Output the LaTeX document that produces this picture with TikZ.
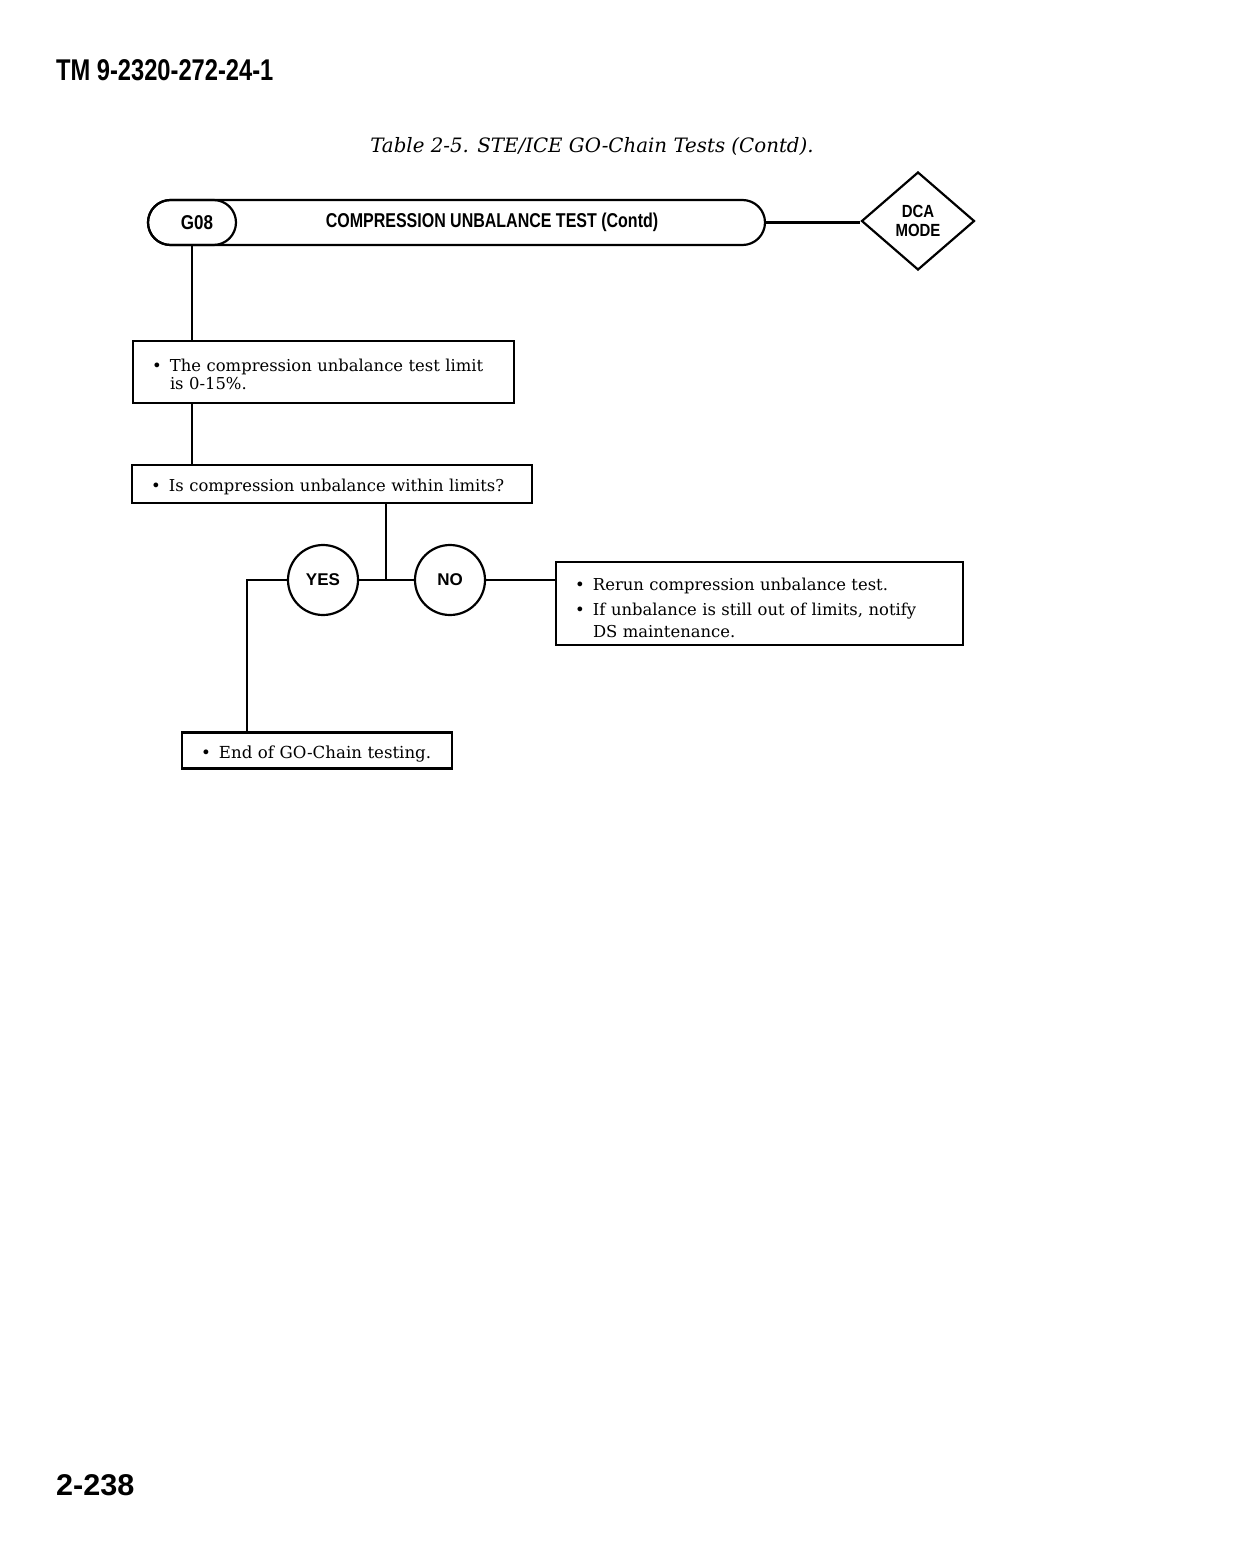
\documentclass[tikz,border=0pt]{standalone}
\usepackage{fontspec}
\setmainfont{DejaVu Serif}
\setsansfont{Liberation Sans}
\usepackage{graphicx}
\usetikzlibrary{shapes.geometric,positioning}
\newcommand{\bul}[1]{\par\noindent\makebox[9pt][l]{\textbullet}%
  \parbox[t]{\dimexpr\linewidth-9pt}{\raggedright #1}\par}
\newcommand{\narrow}[2]{\scalebox{#1}[1]{#2}}

\begin{document}
\begin{tikzpicture}[
  x=0.5pt,y=-0.5pt,
  line width=1.1pt,
  stepbox/.style={draw,line width=1.2pt,inner xsep=9.5pt,inner ysep=3pt,
    font=\fontsize{8.2}{9}\selectfont},
  pill/.style={draw,rounded corners=11.25pt,minimum height=22.5pt,inner sep=0pt},
  head/.style={font=\sffamily\bfseries\fontsize{10}{11}\selectfont,inner sep=0pt,align=center},
  answer/.style={draw,circle,minimum size=35pt,inner sep=0pt,font=\sffamily\bfseries\fontsize{8.5}{9}\selectfont}
]
\useasboundingbox (0,0) rectangle (1232,1568);

\node[head,font=\sffamily\bfseries\fontsize{15}{16}\selectfont,anchor=west] (tm) at (55,70) {\narrow{0.79}{TM 9-2320-272-24-1}};
\node[font=\itshape\fontsize{9.9}{11}\selectfont,inner sep=0pt] (cap) at (592,147) {Table 2-5. STE/ICE GO-Chain Tests (Contd).};

\node[pill,minimum width=308.5pt] (bar) at (456.5,222.5) {};
\node[pill,minimum width=44pt,anchor=west,head] (g08) at (bar.west) {\hspace{5pt}\narrow{0.85}{G08}};
\node[head] (ttl) at (492,222) {\narrow{0.8}{COMPRESSION UNBALANCE TEST (Contd)}};
\node[draw,diamond,minimum width=56.5pt,minimum height=49pt,inner sep=0pt,head,
      font=\sffamily\bfseries\fontsize{8.8}{9.8}\selectfont] (mode) at (918,221) {\narrow{0.85}{DCA}\\\narrow{0.85}{MODE}};
\draw (bar.east) -- (bar.east -| mode.west);

\node[stepbox,text width=171.5pt,minimum height=31pt] (lim) at (323.5,372) {%
  \bul{The compression unbalance test limit\\is 0-15\%.}};
\node[stepbox,text width=181pt,minimum height=19pt] (ask) at (332,484) {%
  \bul{Is compression unbalance within limits?}};
\draw (g08.south) -- (g08.south |- lim.north);
\draw (lim.south -| g08.south) -- (ask.north -| g08.south);

\node[answer] (yes) at (323,580) {YES};
\node[answer] (no) at (450,580) {NO};
\coordinate (jn) at (386,580);
\draw (ask.south -| jn) -- (jn);
\draw (yes.east) -- (no.west);

\node[stepbox,text width=184.5pt,minimum height=41.5pt,inner ysep=1pt,
      font=\fontsize{8.2}{11}\selectfont] (rerun) at (759.5,603.5) {%
  \bul{Rerun compression unbalance test.}\vspace{1.5pt}
  \bul{If unbalance is still out of limits, notify\\DS maintenance.}\vspace{4pt}};
\draw (no.east) -- (no.east -| rerun.west);

\node[stepbox,text width=116pt,minimum height=17.5pt,font=\fontsize{8.3}{10}\selectfont] (done) at (317,750.5) {%
  \bul{End of GO-Chain testing.}};
\coordinate (yesturn) at (247,580);
\draw (yes.west) -- (yesturn) -- (yesturn |- done.north);

\node[head,font=\sffamily\bfseries\fontsize{15}{16}\selectfont,anchor=west] (pg) at (55,1485) {\narrow{1.02}{2-238}};
\end{tikzpicture}
\end{document}
